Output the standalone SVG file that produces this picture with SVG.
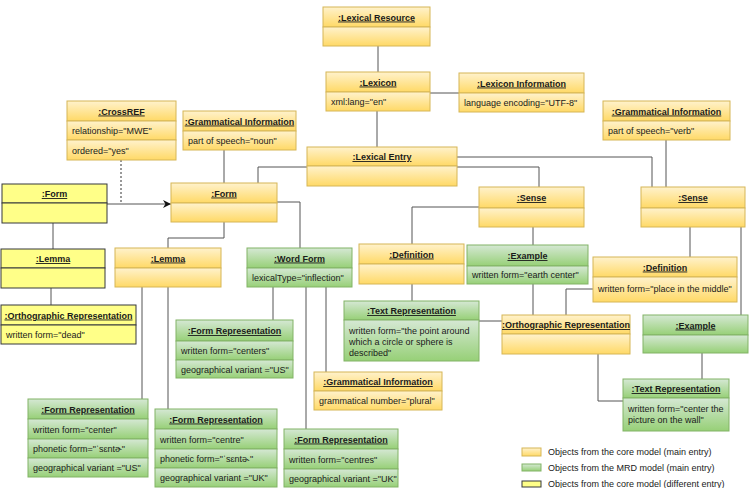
<svg xmlns="http://www.w3.org/2000/svg" width="751" height="488" viewBox="0 0 751 488">
<defs>
<linearGradient id="gO" x1="0" y1="0" x2="0" y2="1"><stop offset="0" stop-color="#fff2cc"/><stop offset="1" stop-color="#ffd966"/></linearGradient>
<linearGradient id="gG" x1="0" y1="0" x2="0" y2="1"><stop offset="0" stop-color="#d5e8d4"/><stop offset="1" stop-color="#97d077"/></linearGradient>
<marker id="arr" viewBox="0 0 10 10" refX="10" refY="5" markerWidth="8" markerHeight="8" orient="auto" markerUnits="userSpaceOnUse"><path d="M0,0 L10,5 L0,10 L3,5 Z" fill="#111"/></marker>
</defs>
<style>
.o{fill:url(#gO);stroke:#d6b656;stroke-width:1}
.g{fill:url(#gG);stroke:#82b366;stroke-width:1}
.y{fill:#ffff88;stroke:#36393d;stroke-width:1}
text{font-family:"Liberation Sans",Arial,sans-serif;font-size:9px;fill:#1a1a1a}
.h{font-weight:bold;text-anchor:middle;text-decoration:underline}
.c{fill:none;stroke:#555;stroke-width:1}
.d{fill:none;stroke:#333;stroke-width:1;stroke-dasharray:2 2}
.lg{font-size:9px}
</style>

<g id="connectors">
<path class="c" d="M378,46 V72"/>
<path class="c" d="M430,93 H459"/>
<path class="c" d="M377,111 V147"/>
<path class="c" d="M307,167 H258 V183"/>
<path class="c" d="M457,167 H539 V187"/>
<path class="c" d="M457,157 H652 V187"/>
<path class="c" d="M224,150 V183"/>
<path class="c" d="M666,140 V187"/>
<path class="c" d="M107,204 H171" stroke="#333" marker-end="url(#arr)"/>
<path class="d" d="M121,160 V204"/>
<path class="c" d="M53,223 V249"/>
<path class="c" d="M51,288 V305"/>
<path class="c" d="M224,222 V238 H168 V248"/>
<path class="c" d="M277,202 H300 V248"/>
<path class="c" d="M142,287 V399"/>
<path class="c" d="M168,287 V409"/>
<path class="c" d="M273,287 V320"/>
<path class="c" d="M306,287 V429"/>
<path class="c" d="M326,287 V372"/>
<path class="c" d="M479,207 H412 V244"/>
<path class="c" d="M533,227 V245"/>
<path class="c" d="M412,284 V301"/>
<path class="c" d="M533,284 V315"/>
<path class="c" d="M479,321 H502"/>
<path class="c" d="M593,289 H566 V315"/>
<path class="c" d="M690,227 V257"/>
<path class="c" d="M741,227 V315"/>
<path class="c" d="M702,353 V379"/>
<path class="c" d="M598,354 V401 H623"/>
</g>

<g id="lexical-resource">
<rect class="o" x="323" y="7" width="107" height="20"/><rect class="o" x="323" y="27" width="107" height="19"/>
<text class="h" x="376.5" y="20.5">:Lexical Resource</text>
</g>
<g id="lexicon">
<rect class="o" x="326" y="72" width="104" height="20"/><rect class="o" x="326" y="92" width="104" height="19"/>
<text class="h" x="378" y="85.5">:Lexicon</text>
<text x="331" y="105">xml:lang="en"</text>
</g>
<g id="lexicon-information">
<rect class="o" x="459" y="73" width="125" height="20"/><rect class="o" x="459" y="93" width="125" height="19"/>
<text class="h" x="521.5" y="86.5">:Lexicon Information</text>
<text x="464" y="106">language encoding="UTF-8"</text>
</g>
<g id="crossref">
<rect class="o" x="67" y="101" width="109" height="20"/><rect class="o" x="67" y="121" width="109" height="19"/><rect class="o" x="67" y="140" width="109" height="20"/>
<text class="h" x="121.5" y="114.5">:CrossREF</text>
<text x="72" y="134">relationship="MWE"</text>
<text x="72" y="153.5">ordered="yes"</text>
</g>
<g id="gram-info-noun">
<rect class="o" x="183" y="111" width="113" height="20"/><rect class="o" x="183" y="131" width="113" height="19"/>
<text class="h" x="239.5" y="124.5">:Grammatical Information</text>
<text x="188" y="144">part of speech="noun"</text>
</g>
<g id="lexical-entry">
<rect class="o" x="307" y="147" width="150" height="19"/><rect class="o" x="307" y="166" width="150" height="20"/>
<text class="h" x="382" y="160">:Lexical Entry</text>
</g>
<g id="gram-info-verb">
<rect class="o" x="603" y="101" width="127" height="20"/><rect class="o" x="603" y="121" width="127" height="19"/>
<text class="h" x="666.5" y="114.5">:Grammatical Information</text>
<text x="608" y="134">part of speech="verb"</text>
</g>
<g id="form-other">
<rect class="y" x="2" y="184" width="105" height="19"/><rect class="y" x="2" y="203" width="105" height="20"/>
<text class="h" x="54.5" y="197">:Form</text>
</g>
<g id="form">
<rect class="o" x="171" y="183" width="106" height="20"/><rect class="o" x="171" y="203" width="106" height="19"/>
<text class="h" x="224" y="196.5">:Form</text>
</g>
<g id="sense-1">
<rect class="o" x="479" y="187" width="105" height="21"/><rect class="o" x="479" y="208" width="105" height="19"/>
<text class="h" x="531.5" y="201">:Sense</text>
</g>
<g id="sense-2">
<rect class="o" x="641" y="187" width="104" height="21"/><rect class="o" x="641" y="208" width="104" height="19"/>
<text class="h" x="693" y="201">:Sense</text>
</g>
<g id="lemma-other">
<rect class="y" x="1" y="249" width="104" height="19"/><rect class="y" x="1" y="268" width="104" height="20"/>
<text class="h" x="53" y="262">:Lemma</text>
</g>
<g id="lemma">
<rect class="o" x="115" y="248" width="106" height="20"/><rect class="o" x="115" y="268" width="106" height="19"/>
<text class="h" x="168" y="261.5">:Lemma</text>
</g>
<g id="word-form">
<rect class="g" x="247" y="248" width="105" height="20"/><rect class="g" x="247" y="268" width="105" height="19"/>
<text class="h" x="299.5" y="261.5">:Word Form</text>
<text x="252" y="281">lexicalType="inflection"</text>
</g>
<g id="definition-1">
<rect class="o" x="359" y="244" width="105" height="20"/><rect class="o" x="359" y="264" width="105" height="20"/>
<text class="h" x="411.5" y="257.5">:Definition</text>
</g>
<g id="example-1">
<rect class="g" x="467" y="245" width="121" height="21"/><rect class="g" x="467" y="266" width="121" height="18"/>
<text class="h" x="527.5" y="259">:Example</text>
<text x="472" y="278">written form="earth center"</text>
</g>
<g id="definition-2">
<rect class="o" x="593" y="257" width="144" height="20"/><rect class="o" x="593" y="277" width="144" height="25"/>
<text class="h" x="665" y="270.5">:Definition</text>
<text x="598" y="292">written form="place in the middle"</text>
</g>
<g id="ortho-rep-other">
<rect class="y" x="1" y="305" width="135" height="20"/><rect class="y" x="1" y="325" width="135" height="19"/>
<text class="h" x="68.5" y="318.5">:Orthographic Representation</text>
<text x="6" y="338">written form="dead"</text>
</g>
<g id="text-rep-1">
<rect class="g" x="344" y="301" width="135" height="19"/><rect class="g" x="344" y="320" width="135" height="41"/>
<text class="h" x="411.5" y="314">:Text Representation</text>
<text x="349" y="334">written form="the point around</text>
<text x="349" y="345">which a circle or sphere is</text>
<text x="349" y="356">described"</text>
</g>
<g id="form-rep-centers">
<rect class="g" x="176" y="320" width="117" height="21"/><rect class="g" x="176" y="341" width="117" height="19"/><rect class="g" x="176" y="360" width="117" height="18"/>
<text class="h" x="234.5" y="334">:Form Representation</text>
<text x="181" y="354">written form="centers"</text>
<text x="181" y="372.5">geographical variant ="US"</text>
</g>
<g id="ortho-rep">
<rect class="o" x="502" y="315" width="128" height="19"/><rect class="o" x="502" y="334" width="128" height="20"/>
<text class="h" x="566" y="328">:Orthographic Representation</text>
</g>
<g id="example-2">
<rect class="g" x="643" y="315" width="105" height="20"/><rect class="g" x="643" y="335" width="105" height="18"/>
<text class="h" x="695.5" y="328.5">:Example</text>
</g>
<g id="gram-info-plural">
<rect class="o" x="314" y="372" width="128" height="19"/><rect class="o" x="314" y="391" width="128" height="19"/>
<text class="h" x="378" y="385">:Grammatical Information</text>
<text x="319" y="404">grammatical number="plural"</text>
</g>
<g id="text-rep-2">
<rect class="g" x="623" y="379" width="106" height="19"/><rect class="g" x="623" y="398" width="106" height="33"/>
<text class="h" x="676" y="392">:Text Representation</text>
<text x="628" y="412">written form="center the</text>
<text x="628" y="423"> picture on the wall"</text>
</g>
<g id="form-rep-center">
<rect class="g" x="28" y="399" width="120" height="20"/><rect class="g" x="28" y="419" width="120" height="20"/><rect class="g" x="28" y="439" width="120" height="19"/><rect class="g" x="28" y="458" width="120" height="19"/>
<text class="h" x="88" y="412.5">:Form Representation</text>
<text x="33" y="432.5">written form="center"</text>
<text x="33" y="452">phonetic form="ˈsɛntɚ"</text>
<text x="33" y="471">geographical variant ="US"</text>
</g>
<g id="form-rep-centre">
<rect class="g" x="155" y="409" width="122" height="20"/><rect class="g" x="155" y="429" width="122" height="20"/><rect class="g" x="155" y="449" width="122" height="19"/><rect class="g" x="155" y="468" width="122" height="19"/>
<text class="h" x="216" y="422.5">:Form Representation</text>
<text x="160" y="442.5">written form="centre"</text>
<text x="160" y="462">phonetic form="ˈsɛntə˞"</text>
<text x="160" y="481">geographical variant ="UK"</text>
</g>
<g id="form-rep-centres">
<rect class="g" x="284" y="429" width="114" height="20"/><rect class="g" x="284" y="449" width="114" height="20"/><rect class="g" x="284" y="469" width="114" height="18"/>
<text class="h" x="341" y="442.5">:Form Representation</text>
<text x="289" y="462.5">written form="centres"</text>
<text x="289" y="481.5">geographical variant ="UK"</text>
</g>

<g id="legend">
<rect class="o" x="522" y="448" width="19" height="8" stroke="#f0d080"/>
<text class="lg" x="548" y="455">Objects from the core model (main entry)</text>
<rect class="g" x="522" y="464" width="19" height="7" stroke="#b5d6a7"/>
<text class="lg" x="548" y="471">Objects from the MRD model (main entry)</text>
<rect class="y" x="522" y="481" width="19" height="6"/>
<text class="lg" x="548" y="487">Objects from the core model (different entry)</text>
</g>
</svg>
